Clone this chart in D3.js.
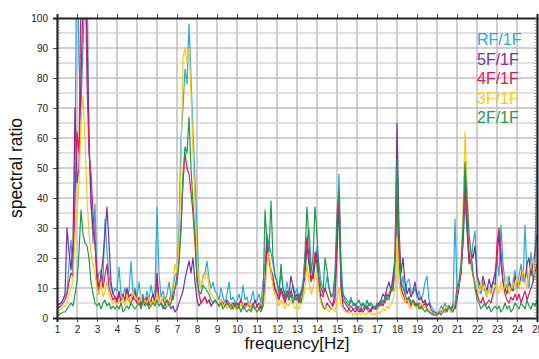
<!DOCTYPE html>
<html>
<head>
<meta charset="utf-8">
<script src="https://cdn.jsdelivr.net/npm/d3@7"></script>
<style>
  body { margin: 0; background: #fff; }
  svg { display: block; font-family: "Liberation Sans", Arial, sans-serif; }
</style>
</head>
<body>
<svg id="chart" width="539" height="359"></svg>
<script>
// frequency grid: 1.0 .. 25.0 Hz, 0.1 Hz step
var freqStart = 1, freqStep = 0.1;
var xTicks = d3.range(1, 26);
var yTicks = d3.range(0, 101, 10);
var seriesNames = ["RF/1F", "5F/1F", "4F/1F", "3F/1F", "2F/1F"];
var seriesColors = ["#2aa8e0", "#7a2d9c", "#e2195c", "#fcc913", "#1f9a4c"];

var rf = [
  4, 4.5, 5, 6, 7.5, 9, 18, 26, 15, 55,
  130, 85, 70, 90, 110, 120, 58, 40, 25, 38,
  12, 15, 16, 12, 33, 22, 14, 10, 8, 10,
  9, 17, 8, 7, 10, 6, 9, 19, 8, 10,
  7, 12, 6, 8, 5, 9, 6, 11, 7, 9,
  37, 15, 7, 9, 6, 8, 12, 7, 10, 14,
  15, 30, 60, 70, 83, 78, 98, 80, 62, 46,
  30, 12, 10, 14, 15, 19, 13, 10, 12, 9,
  8, 6, 10, 7, 5, 8, 12, 6, 7, 5,
  6, 8, 5, 11, 6, 7, 4, 6, 9, 5,
  6, 8, 5, 12, 18, 28, 24, 22, 18, 14,
  12, 9, 15, 10, 8, 12, 7, 9, 11, 8,
  10, 7, 9, 12, 20, 26, 30, 18, 14, 20,
  24, 18, 12, 10, 9, 14, 10, 8, 7, 12,
  30, 48, 20, 8, 7, 6, 5, 7, 4, 5,
  3, 4, 3, 5, 4, 3, 5, 4, 3, 4,
  4, 5, 4, 6, 5, 7, 6, 9, 12, 18,
  35, 22, 10, 14, 8, 12, 13, 9, 8, 10,
  7, 9, 6, 8, 12, 14, 6, 4, 3, 2,
  1.5, 2, 4, 3, 5, 3, 4, 3, 5, 33,
  10, 12, 15, 25, 38, 30, 20, 18, 25, 29,
  15, 10, 8, 12, 9, 7, 10, 8, 12, 11,
  20, 14, 31, 18, 12, 10, 14, 9, 12, 16,
  10, 14, 18, 12, 31, 15, 10, 22, 12, 18,
  58
];
var f5 = [
  4, 4.5, 5, 6, 8, 30, 22, 16, 25, 70,
  45, 50, 80, 105, 110, 95, 60, 38, 30, 25,
  15, 10, 14, 20, 28, 37, 25, 12, 8, 7,
  6, 9, 5, 8, 6, 10, 7, 8, 6, 9,
  5, 7, 4, 6, 5, 7, 5, 6, 8, 5,
  15, 6, 5, 4, 3, 4, 5, 3, 4, 2,
  3, 5, 7, 9, 13, 16, 19, 15, 20, 12,
  6, 4, 5, 6, 7, 5, 6, 4, 5, 6,
  5, 4, 6, 5, 4, 6, 5, 4, 5, 4,
  5, 4, 6, 3, 5, 4, 5, 3, 4, 6,
  4, 5, 3, 6, 12, 27, 20, 16, 14, 10,
  8, 7, 10, 8, 6, 9, 8, 14, 10, 7,
  8, 6, 8, 10, 14, 24, 18, 14, 13, 18,
  22, 12, 6, 4, 3, 5, 4, 3, 5, 8,
  22, 38, 10, 4, 3, 2, 3, 2, 3, 2,
  3, 2, 3, 2, 3, 4, 3, 2, 4, 3,
  4, 5, 6, 8, 7, 10, 12, 9, 14, 20,
  65, 30, 15, 20, 12, 8, 10, 7, 9, 12,
  8, 6, 7, 5, 6, 4, 5, 3, 2, 2,
  1, 1.5, 2, 3, 2, 4, 3, 2, 4, 3,
  6, 10, 15, 25, 45, 30, 18, 22, 20, 24,
  14, 12, 10, 14, 11, 9, 13, 10, 12, 15,
  20, 28, 18, 12, 10, 8, 12, 10, 9, 14,
  12, 10, 14, 16, 12, 18, 20, 14, 18, 22,
  28
];
var f4 = [
  3, 3.5, 4, 5, 6, 8, 12, 15, 14, 40,
  62, 55, 110, 120, 125, 79, 55, 48, 35, 25,
  12, 8, 15, 10, 14, 18, 10, 8, 6, 7,
  5, 8, 6, 7, 5, 9, 6, 5, 7, 6,
  5, 6, 4, 7, 5, 6, 4, 6, 5, 7,
  12, 6, 5, 7, 4, 6, 5, 8, 6, 10,
  14, 20, 30, 45, 55, 50, 48, 42, 35, 25,
  14, 8, 5, 6, 7, 5, 6, 4, 5, 6,
  5, 4, 6, 5, 4, 5, 4, 5, 3, 4,
  4, 5, 6, 4, 3, 5, 4, 3, 5, 3,
  4, 3, 5, 4, 10, 24, 20, 15, 12, 9,
  8, 6, 9, 7, 5, 8, 6, 9, 7, 6,
  7, 5, 8, 10, 18, 27, 20, 12, 15, 22,
  18, 10, 8, 7, 10, 8, 6, 5, 4, 6,
  28, 42, 12, 6, 5, 4, 3, 4, 3, 3,
  4, 3, 2, 3, 4, 3, 2, 3, 4, 3,
  3, 4, 5, 4, 6, 8, 7, 9, 10, 15,
  42, 20, 10, 8, 6, 5, 7, 4, 6, 5,
  4, 5, 3, 4, 5, 3, 2, 2, 1.5, 1,
  1, 1.5, 2, 3, 2, 3, 4, 3, 4, 5,
  10, 12, 15, 30, 48, 35, 22, 18, 14, 12,
  8, 6, 5, 7, 4, 5, 6, 5, 8, 10,
  25, 30, 22, 12, 8, 6, 5, 7, 6, 8,
  6, 8, 5, 7, 9, 6, 8, 10, 12, 15,
  18
];
var f3 = [
  2, 2.5, 3, 3.5, 4, 5, 8, 10, 12, 28,
  35, 45, 65, 74, 60, 40, 28, 22, 18, 15,
  10, 8, 12, 7, 9, 12, 8, 6, 5, 6,
  4, 6, 5, 7, 4, 8, 5, 6, 9, 7,
  6, 5, 8, 4, 6, 5, 7, 4, 6, 5,
  8, 6, 5, 7, 6, 4, 5, 7, 12, 18,
  15, 25, 50, 87, 90, 85, 90, 75, 55, 38,
  20, 12, 10, 14, 13, 16, 10, 8, 7, 6,
  5, 4, 6, 4, 5, 3, 4, 5, 4, 3,
  4, 3, 5, 4, 3, 4, 5, 3, 4, 3,
  3, 4, 5, 4, 8, 18, 22, 16, 10, 8,
  6, 4, 6, 5, 3, 5, 4, 6, 5, 3,
  4, 3, 5, 6, 10, 18, 12, 8, 10, 14,
  15, 8, 5, 3, 4, 3, 2, 4, 3, 2,
  6, 10, 4, 3, 2, 2, 1.5, 2, 1, 1.5,
  1, 1.5, 1, 2, 1, 1.5, 2, 1, 1.5, 1,
  2, 1.5, 2, 3, 2.5, 4, 3, 5, 6, 10,
  27, 12, 8, 6, 5, 7, 4, 3, 5, 4,
  3, 4, 5, 3, 4, 2, 3, 2, 1, 1,
  1, 2, 1.5, 3, 2, 4, 3, 2, 3, 5,
  8, 12, 18, 35, 62, 45, 28, 20, 15, 12,
  10, 8, 12, 9, 11, 7, 10, 8, 9, 11,
  10, 8, 12, 9, 11, 14, 8, 10, 12, 9,
  14, 10, 12, 16, 13, 10, 15, 18, 20, 14,
  12
];
var f2 = [
  1, 1.2, 1.5, 2, 2, 3, 4, 5, 4, 8,
  12, 22, 36, 28, 25, 24, 20, 12, 8, 5,
  4, 5, 3, 5, 6, 4, 5, 3, 4, 3,
  4, 3, 5, 2, 3, 4, 3, 5, 4, 3,
  4, 5, 3, 6, 4, 5, 3, 4, 5, 4,
  6, 4, 5, 3, 5, 6, 4, 5, 8, 10,
  12, 18, 30, 48, 57, 55, 67, 50, 38, 28,
  12, 9, 8, 11, 10, 9, 8, 6, 5, 6,
  5, 4, 5, 3, 4, 5, 4, 3, 4, 5,
  3, 4, 2, 4, 3, 2, 3, 2, 4, 3,
  2, 3, 2, 4, 36, 25, 22, 39, 20, 14,
  12, 8, 18, 10, 7, 9, 6, 8, 5, 7,
  6, 8, 5, 9, 22, 37, 25, 15, 20, 37,
  28, 14, 10, 8, 20, 16, 10, 7, 8, 15,
  35, 43, 14, 8, 6, 5, 4, 6, 5, 4,
  5, 6, 4, 5, 3, 6, 4, 5, 4, 3,
  5, 4, 6, 5, 7, 6, 8, 10, 9, 20,
  53, 25, 12, 10, 8, 6, 7, 5, 6, 4,
  5, 3, 4, 3, 2, 3, 2, 1.5, 1, 1,
  1, 2, 1, 2, 3, 2, 4, 3, 2, 4,
  8, 12, 18, 30, 52, 40, 28, 22, 15, 10,
  6, 5, 3, 4, 5, 3, 4, 2, 3, 4,
  3, 4, 2, 3, 5, 3, 4, 2, 3, 5,
  4, 3, 5, 4, 3, 6, 4, 3, 5, 4,
  6
];
var seriesValues = [rf, f5, f4, f3, f2];

var svg = d3.select("#chart"),
    margin = {top: 18, right: 2, bottom: 41, left: 57},
    width = +svg.attr("width") - margin.left - margin.right,
    height = +svg.attr("height") - margin.top - margin.bottom;

var x = d3.scaleLinear().domain([1, 25]).range([margin.left, margin.left + width]);
var y = d3.scaleLinear().domain([0, 100]).range([margin.top + height, margin.top]);

svg.append("defs").append("clipPath").attr("id", "plotclip")
  .append("rect")
  .attr("x", x(1)).attr("y", y(100))
  .attr("width", x(25) - x(1)).attr("height", y(0) - y(100));

// grid
var grid = svg.append("g");
grid.selectAll(".vl").data(xTicks).enter().append("line")
  .attr("x1", function(d) { return x(d); }).attr("x2", function(d) { return x(d); })
  .attr("y1", y(0)).attr("y2", y(100))
  .attr("stroke", "#e0e0e0").attr("stroke-width", 2);
grid.selectAll(".hl").data(d3.range(5, 100, 5)).enter().append("line")
  .attr("x1", x(1)).attr("x2", x(25))
  .attr("y1", function(d) { return y(d); }).attr("y2", function(d) { return y(d); })
  .attr("stroke", "#e0e0e0").attr("stroke-width", 2);
grid.selectAll(".vd").data(xTicks).enter().append("line")
  .attr("x1", function(d) { return x(d); }).attr("x2", function(d) { return x(d); })
  .attr("y1", y(0)).attr("y2", y(100))
  .attr("stroke", "#9a9a9a").attr("stroke-width", 0.5);
grid.selectAll(".hd").data(d3.range(10, 100, 10)).enter().append("line")
  .attr("x1", x(1)).attr("x2", x(25))
  .attr("y1", function(d) { return y(d); }).attr("y2", function(d) { return y(d); })
  .attr("stroke", "#9a9a9a").attr("stroke-width", 0.5);

// lines
var line = d3.line()
  .x(function(d, i) { return x(freqStart + i * freqStep); })
  .y(function(d) { return y(d); });

svg.append("g").attr("clip-path", "url(#plotclip)")
  .selectAll("path").data(seriesValues).enter().append("path")
  .attr("fill", "none")
  .attr("stroke", function(d, i) { return seriesColors[i]; })
  .attr("stroke-width", 1.2)
  .attr("stroke-linejoin", "round")
  .attr("d", line);

// axes
function styleAxis(g) {
  g.select(".domain").attr("stroke", "#222").attr("stroke-width", 2);
  g.selectAll(".tick line").attr("stroke", "#222").attr("stroke-width", 0.8);
  g.selectAll(".tick text").attr("fill", "#222").attr("font-size", 10);
}

svg.append("g").attr("transform", "translate(0," + y(0) + ")")
  .call(d3.axisBottom(x).tickValues(xTicks).tickSize(4).tickPadding(4).tickFormat(d3.format("d")))
  .call(styleAxis);
svg.append("g").attr("transform", "translate(0," + y(100) + ")")
  .call(d3.axisTop(x).tickValues(xTicks).tickSize(4).tickFormat(""))
  .call(styleAxis);
svg.append("g").attr("transform", "translate(" + x(1) + ",0)")
  .call(d3.axisLeft(y).tickValues(yTicks).tickSize(4).tickPadding(5))
  .call(styleAxis);
svg.append("g").attr("transform", "translate(" + x(25) + ",0)")
  .call(d3.axisRight(y).tickValues(yTicks).tickSize(0).tickFormat(""))
  .call(styleAxis);

// minor ticks (inward)
svg.append("g").attr("transform", "translate(" + x(1) + ",0)")
  .call(d3.axisRight(y).tickValues(d3.range(0, 101, 1)).tickSize(2.5).tickFormat(""))
  .call(function(g) { g.select(".domain").remove(); g.selectAll(".tick line").attr("stroke", "#444").attr("stroke-width", 0.5); });
svg.append("g").attr("transform", "translate(" + x(25) + ",0)")
  .call(d3.axisLeft(y).tickValues(d3.range(0, 101, 1)).tickSize(2.5).tickFormat(""))
  .call(function(g) { g.select(".domain").remove(); g.selectAll(".tick line").attr("stroke", "#444").attr("stroke-width", 0.5); });

// axis titles
svg.append("text")
  .attr("x", x(13)).attr("y", 349)
  .attr("text-anchor", "middle").attr("font-size", 17).attr("fill", "#111")
  .text("frequency[Hz]");
svg.append("text")
  .attr("transform", "translate(22," + y(50) + ") rotate(-90)")
  .attr("text-anchor", "middle").attr("font-size", 17.5).attr("fill", "#111")
  .text("spectral ratio");

// legend
svg.append("g").selectAll("text").data(seriesNames).enter().append("text")
  .attr("x", 477)
  .attr("y", function(d, i) { return 45 + i * 19.6; })
  .attr("font-size", 16)
  .attr("fill", function(d, i) { return seriesColors[i]; })
  .text(function(d) { return d; });
</script>
</body>
</html>
